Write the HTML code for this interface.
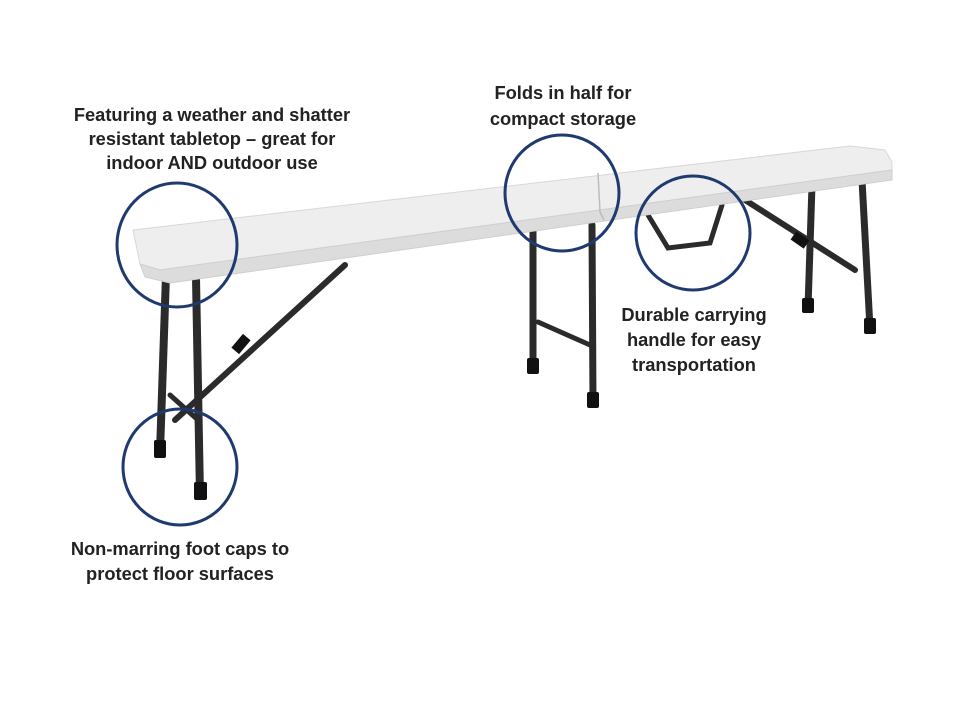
<!DOCTYPE html>
<html><head><meta charset="utf-8"><style>
body{margin:0;background:#fff}
svg{display:block}
text{font-family:"Liberation Sans",sans-serif;font-weight:bold;font-size:18.3px;fill:#222;text-anchor:middle}
</style></head><body>
<svg width="960" height="720" viewBox="0 0 960 720">
<rect width="960" height="720" fill="#fff"/>
<g stroke="#2b2b2b" stroke-linecap="round" fill="none">
<line x1="345" y1="265" x2="175" y2="420" stroke-width="6"/>
<line x1="170" y1="395" x2="198" y2="420" stroke-width="5"/>
<line x1="745" y1="200" x2="855" y2="270" stroke-width="6"/>
<line x1="812" y1="185" x2="808" y2="308" stroke-width="7"/>
<line x1="862" y1="180" x2="870" y2="328" stroke-width="7"/>
<line x1="533" y1="225" x2="533" y2="368" stroke-width="7"/>
<line x1="538" y1="322" x2="590" y2="345" stroke-width="5"/>
<line x1="592" y1="225" x2="593" y2="402" stroke-width="7"/>
<line x1="166" y1="275" x2="160" y2="452" stroke-width="8"/>
<line x1="196" y1="278" x2="200" y2="496" stroke-width="8"/>
<path d="M648 215 L668 248 L710 243 L722 205" stroke-width="5"/>
</g>
<g fill="#111">
<rect x="154" y="440" width="12" height="18" rx="2"/>
<rect x="194" y="482" width="13" height="18" rx="2"/>
<rect x="527" y="358" width="12" height="16" rx="2"/>
<rect x="587" y="392" width="12" height="16" rx="2"/>
<rect x="802" y="298" width="12" height="15" rx="2"/>
<rect x="864" y="318" width="12" height="16" rx="2"/>
<rect x="236" y="335" width="10" height="18" transform="rotate(40 241 344)"/>
<rect x="795" y="232" width="10" height="16" transform="rotate(-55 800 240)"/>
</g>
<polygon points="133,230 850,146 885,150 892,162 892,170 160,270 140,264" fill="#eeeeee" stroke="#d8d8d8" stroke-width="1"/>
<polygon points="140,264 160,270 892,170 892,180 170,283 145,277" fill="#dcdcdc" stroke="#cfcfcf" stroke-width="1"/>
<polyline points="598,173 600,212 604,220" fill="none" stroke="#bdbdbd" stroke-width="1.5"/>
<g fill="none" stroke="#1f3a6e" stroke-width="3">
<ellipse cx="177" cy="245" rx="60" ry="62"/>
<ellipse cx="562" cy="193" rx="57" ry="58"/>
<ellipse cx="693" cy="233" rx="57" ry="57"/>
<ellipse cx="180" cy="467" rx="57" ry="58"/>
</g>
<text x="212" y="121">Featuring a weather and shatter</text>
<text x="212" y="145">resistant tabletop – great for</text>
<text x="212" y="169">indoor AND outdoor use</text>
<text x="563" y="99">Folds in half for</text>
<text x="563" y="125">compact storage</text>
<text x="694" y="321">Durable carrying</text>
<text x="694" y="346">handle for easy</text>
<text x="694" y="371">transportation</text>
<text x="180" y="555">Non-marring foot caps to</text>
<text x="180" y="580">protect floor surfaces</text>
</svg>
</body></html>
